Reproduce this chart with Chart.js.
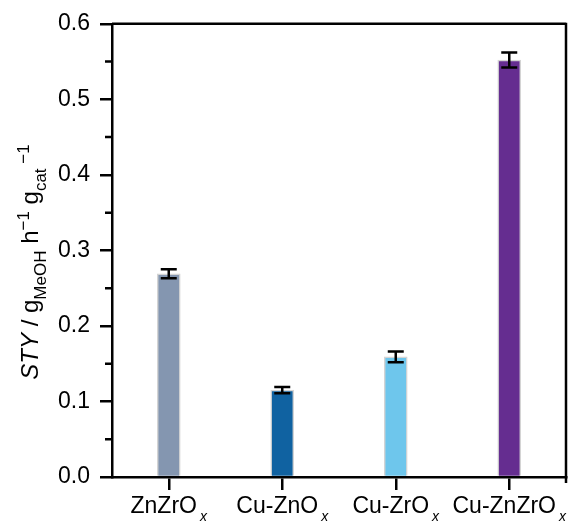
<!DOCTYPE html>
<html>
<head>
<meta charset="utf-8">
<script src="https://cdn.jsdelivr.net/npm/chart.js@4"></script>
<style>
  html, body { margin: 0; padding: 0; background: #fff; }
  #wrap { width: 570px; height: 522px; }
</style>
</head>
<body>
<div id="wrap"><canvas id="chart" width="570" height="522"></canvas></div>
<script>
// catalyst names (base part + italic subscript)
const CATEGORIES = ['ZnZrO', 'Cu-ZnO', 'Cu-ZrO', 'Cu-ZnZrO'];
const CAT_SUBSCRIPT = ['x', 'x', 'x', 'x'];
const STY_VALUES = [0.269, 0.115, 0.159, 0.552];
const STY_ERRORS = [0.006, 0.004, 0.007, 0.010];
const BAR_COLORS = ['#8496b0', '#1062a1', '#6ec6ec', '#652d90'];
const Y_TICKS = [0, 0.1, 0.2, 0.3, 0.4, 0.5, 0.6];

const FONT = '"Liberation Sans", Arial, Helvetica, sans-serif';

// error bars drawn from the data through the y scale
const errorBars = {
  id: 'errorBars',
  afterDatasetsDraw(chart) {
    const ctx = chart.ctx;
    const y = chart.scales.y;
    const meta = chart.getDatasetMeta(0);
    ctx.save();
    ctx.strokeStyle = '#000';
    ctx.lineWidth = 2.5;
    meta.data.forEach((bar, i) => {
      const top = y.getPixelForValue(STY_VALUES[i] + STY_ERRORS[i]);
      const bot = y.getPixelForValue(STY_VALUES[i] - STY_ERRORS[i]);
      const half = 8;
      ctx.beginPath();
      ctx.moveTo(bar.x, top); ctx.lineTo(bar.x, bot);
      ctx.moveTo(bar.x - half, top); ctx.lineTo(bar.x + half, top);
      ctx.moveTo(bar.x - half, bot); ctx.lineTo(bar.x + half, bot);
      ctx.stroke();
    });
    ctx.restore();
  }
};

// frame, minor ticks, category labels with subscripts, axis title
const decorations = {
  id: 'decorations',
  afterDraw(chart) {
    const ctx = chart.ctx;
    const { left, right, top, bottom } = chart.chartArea;
    const x = chart.scales.x;
    const y = chart.scales.y;
    ctx.save();
    ctx.strokeStyle = '#000';
    ctx.lineWidth = 2.5;
    ctx.beginPath();
    ctx.moveTo(left, top); ctx.lineTo(right, top);
    ctx.moveTo(right, top - 1); ctx.lineTo(right, bottom + 6);
    // minor ticks halfway between major ones
    for (let i = 0; i < Y_TICKS.length - 1; i++) {
      const py = y.getPixelForValue((Y_TICKS[i] + Y_TICKS[i + 1]) / 2);
      ctx.moveTo(left - 7, py); ctx.lineTo(left, py);
    }
    ctx.stroke();

    // category labels
    ctx.fillStyle = '#000';
    ctx.textBaseline = 'alphabetic';
    ctx.textAlign = 'left';
    CATEGORIES.forEach((name, i) => {
      ctx.font = '23px ' + FONT;
      const w1 = ctx.measureText(name).width;
      ctx.font = 'italic 14px ' + FONT;
      const w2 = ctx.measureText(CAT_SUBSCRIPT[i]).width;
      const cx = x.getPixelForValue(i);
      const sx = cx - (w1 + 3 + w2) / 2;
      ctx.font = '23px ' + FONT;
      ctx.fillText(name, sx, 513);
      ctx.font = 'italic 14px ' + FONT;
      ctx.fillText(CAT_SUBSCRIPT[i], sx + w1 + 3, 521);
    });

    // y axis title: STY / g_MeOH h^-1 g_cat^-1
    const main = '24px ' + FONT;
    const small = '17px ' + FONT;
    const parts = [
      { t: 'STY', f: 'italic ' + main, dy: 0 },
      { t: ' / g', f: main, dy: 0 },
      { t: 'MeOH', f: small, dy: 8 },
      { t: ' h', f: main, dy: 0 },
      { t: '\u22121', f: small, dy: -9 },
      { t: ' g', f: main, dy: 0 },
      { t: 'cat', f: small, dy: 8 },
      { t: ' \u22121', f: small, dy: -9 }
    ];
    let total = 0;
    parts.forEach(p => { ctx.font = p.f; p.w = ctx.measureText(p.t).width; total += p.w; });
    ctx.translate(38, 262);
    ctx.rotate(-Math.PI / 2);
    let px = -total / 2;
    parts.forEach(p => {
      ctx.font = p.f;
      ctx.fillText(p.t, px, p.dy);
      px += p.w;
    });
    ctx.restore();
  }
};

new Chart(document.getElementById('chart'), {
  type: 'bar',
  data: {
    labels: CATEGORIES,
    datasets: [{
      data: STY_VALUES,
      backgroundColor: BAR_COLORS,
      borderColor: '#d4d4d4',
      borderWidth: 1.5,
      barThickness: 23
    }]
  },
  options: {
    responsive: false,
    animation: false,
    devicePixelRatio: 1,
    layout: { padding: { top: 22, right: 4, left: 0, bottom: 0 } },
    plugins: { legend: { display: false }, tooltip: { enabled: false } },
    scales: {
      x: {
        offset: true,
        grid: { display: true, offset: false, drawOnChartArea: false, drawTicks: true, tickLength: 13, color: '#000', lineWidth: 2.5 },
        border: { display: true, color: '#000', width: 2.5 },
        ticks: { display: false },
        afterFit: s => { s.height = 45; }
      },
      y: {
        min: 0,
        max: 0.6,
        afterBuildTicks: s => { s.ticks = Y_TICKS.map(v => ({ value: v })); },
        grid: { display: true, drawOnChartArea: false, drawTicks: true, tickLength: 12, color: '#000', lineWidth: 2.5 },
        border: { display: true, color: '#000', width: 2.5 },
        ticks: {
          color: '#000',
          padding: 10,
          font: { family: FONT, size: 23 },
          callback: v => v.toFixed(1)
        },
        afterFit: s => { s.width = 112; }
      }
    }
  },
  plugins: [errorBars, decorations]
});
</script>
</body>
</html>
